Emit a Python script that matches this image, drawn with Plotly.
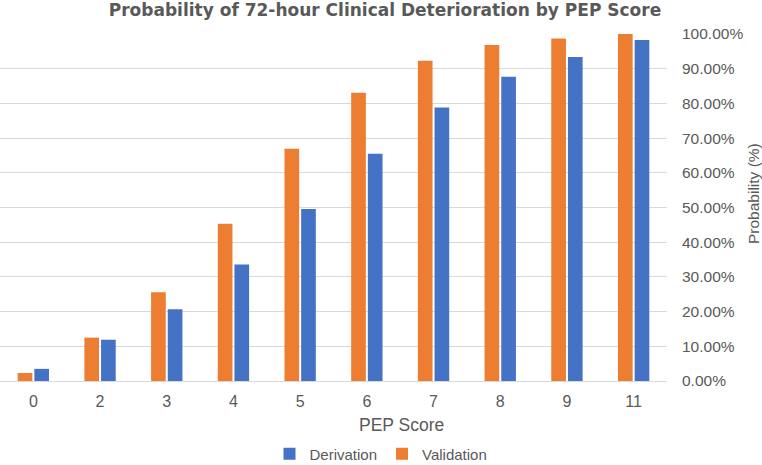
import plotly.graph_objects as go

categories = ["0", "2", "3", "4", "5", "6", "7", "8", "9", "11"]
validation = [0.023, 0.125, 0.256, 0.453, 0.669, 0.831, 0.923, 0.968, 0.987, 1.000]
derivation = [0.035, 0.119, 0.207, 0.336, 0.496, 0.655, 0.788, 0.877, 0.934, 0.983]
y_ticks = [i / 10 for i in range(11)]

TXT = "#595959"
FONT = "Liberation Sans, Arial, sans-serif"

fig = go.Figure()
fig.add_trace(go.Bar(x=categories, y=validation, name="Validation",
                     marker=dict(color="#ED7D31", line=dict(width=0))))
fig.add_trace(go.Bar(x=categories, y=derivation, name="Derivation",
                     marker=dict(color="#4472C4", line=dict(width=0))))

fig.update_layout(
    width=762, height=465,
    margin=dict(l=0, r=95, t=34, b=84, autoexpand=False),
    paper_bgcolor="white", plot_bgcolor="white",
    font=dict(family=FONT, color=TXT, size=15.5),
    bargap=0.5, bargroupgap=0.12,
    title=dict(text="<b>Probability of 72-hour Clinical Deterioration by PEP Score</b>",
               font=dict(family="DejaVu Sans, sans-serif", size=17, color=TXT),
               x=385 / 762, xref="container", xanchor="center",
               y=1 - 10 / 465, yref="container", yanchor="middle"),
    legend=dict(orientation="h", traceorder="reversed",
                x=381 / 667, xanchor="center", y=(381 - 454) / 347, yanchor="middle",
                font=dict(size=15, color=TXT), itemwidth=30),
    showlegend=True,
)
fig.update_xaxes(showgrid=False, showline=False, ticks="", tickfont=dict(size=16, color=TXT),
                 ticklabelstandoff=9)
fig.update_yaxes(side="right", range=[0, 1], tickvals=y_ticks, tickformat=".2%",
                 showgrid=True, gridcolor="#d9d9d9", gridwidth=1,
                 zeroline=True, zerolinecolor="#d9d9d9", zerolinewidth=1,
                 tickfont=dict(size=15.5, color=TXT), ticklabelstandoff=14)
fig.add_annotation(text="PEP Score", xref="paper", yref="paper",
                   x=401 / 667, y=(381 - 425) / 347, xanchor="center", yanchor="middle",
                   showarrow=False, font=dict(size=17.5, color=TXT))
fig.add_annotation(text="Probability (%)", xref="paper", yref="paper",
                   x=1, xshift=86, y=(381 - 194) / 347, xanchor="center", yanchor="middle",
                   textangle=-90, showarrow=False, font=dict(size=15.5, color=TXT))

fig.write_html("out.html", config={"displayModeBar": False},
               post_script="document.body.style.margin='0';document.body.style.overflow='hidden';")
